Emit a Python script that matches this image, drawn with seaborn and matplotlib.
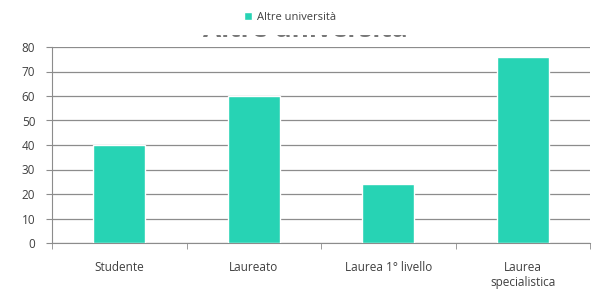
import matplotlib
matplotlib.use("Agg")
import matplotlib.pyplot as plt
import seaborn as sns
from matplotlib.patches import Patch, Rectangle

# Dati
categorie = ["Studente", "Laureato", "Laurea 1° livello", "Laurea\nspecialistica"]
valori = [40, 60, 24, 76]
serie = "Altre università"
colore = "#27d3b4"

sns.set_style("white")
plt.rcParams['font.family'] = ['Open Sans', 'DejaVu Sans']

fig = plt.figure(figsize=(5.94, 2.99), dpi=100)
ax = fig.add_axes([52/594, 56/299, 538/594, 196/299])

sns.barplot(x=categorie, y=valori, color=colore, width=0.39, ax=ax, zorder=3,
            saturation=1)

# Titolo quasi tutto coperto dalla zona della legenda
fig.text(305/594, 1 - 37/299, serie, ha="center", va="baseline", fontsize=19,
         fontweight="bold", color="#777777", zorder=-2)
fig.add_artist(Rectangle((0, 1 - 35/299), 1, 35/299, transform=fig.transFigure,
                         facecolor="white", edgecolor="none", zorder=-1))

ax.set_ylim(0, 80)
ax.set_xlim(-0.5, 3.5)
ax.set_yticks(range(0, 81, 10))
ax.yaxis.grid(True, color="#8c8c8c", linewidth=0.9)
ax.set_axisbelow(True)

for s in ["top", "right"]:
    ax.spines[s].set_visible(False)
ax.spines["left"].set_color("#8c8c8c")
ax.spines["bottom"].set_color("#8c8c8c")

ax.tick_params(axis="y", left=True, length=4, color="#8c8c8c", labelsize=8.5,
               labelcolor="#404040", pad=8)
ax.tick_params(axis="x", which="major", length=0, labelsize=8.5,
               labelcolor="#404040", pad=13)
ax.set_xticks([-0.5, 0.5, 1.5, 2.5, 3.5], minor=True)
ax.tick_params(axis="x", which="minor", bottom=True, length=4, color="#8c8c8c")
ax.set_xlabel("")
ax.set_ylabel("")

fig.legend(handles=[Patch(facecolor=colore, label=serie)], loc="center",
           bbox_to_anchor=(290/594, 1 - 17/299), frameon=False, fontsize=8,
           handlelength=0.7, handleheight=0.7, handletextpad=0.4,
           labelcolor="#404040")

fig.savefig("out.png", dpi=100, facecolor="white")
